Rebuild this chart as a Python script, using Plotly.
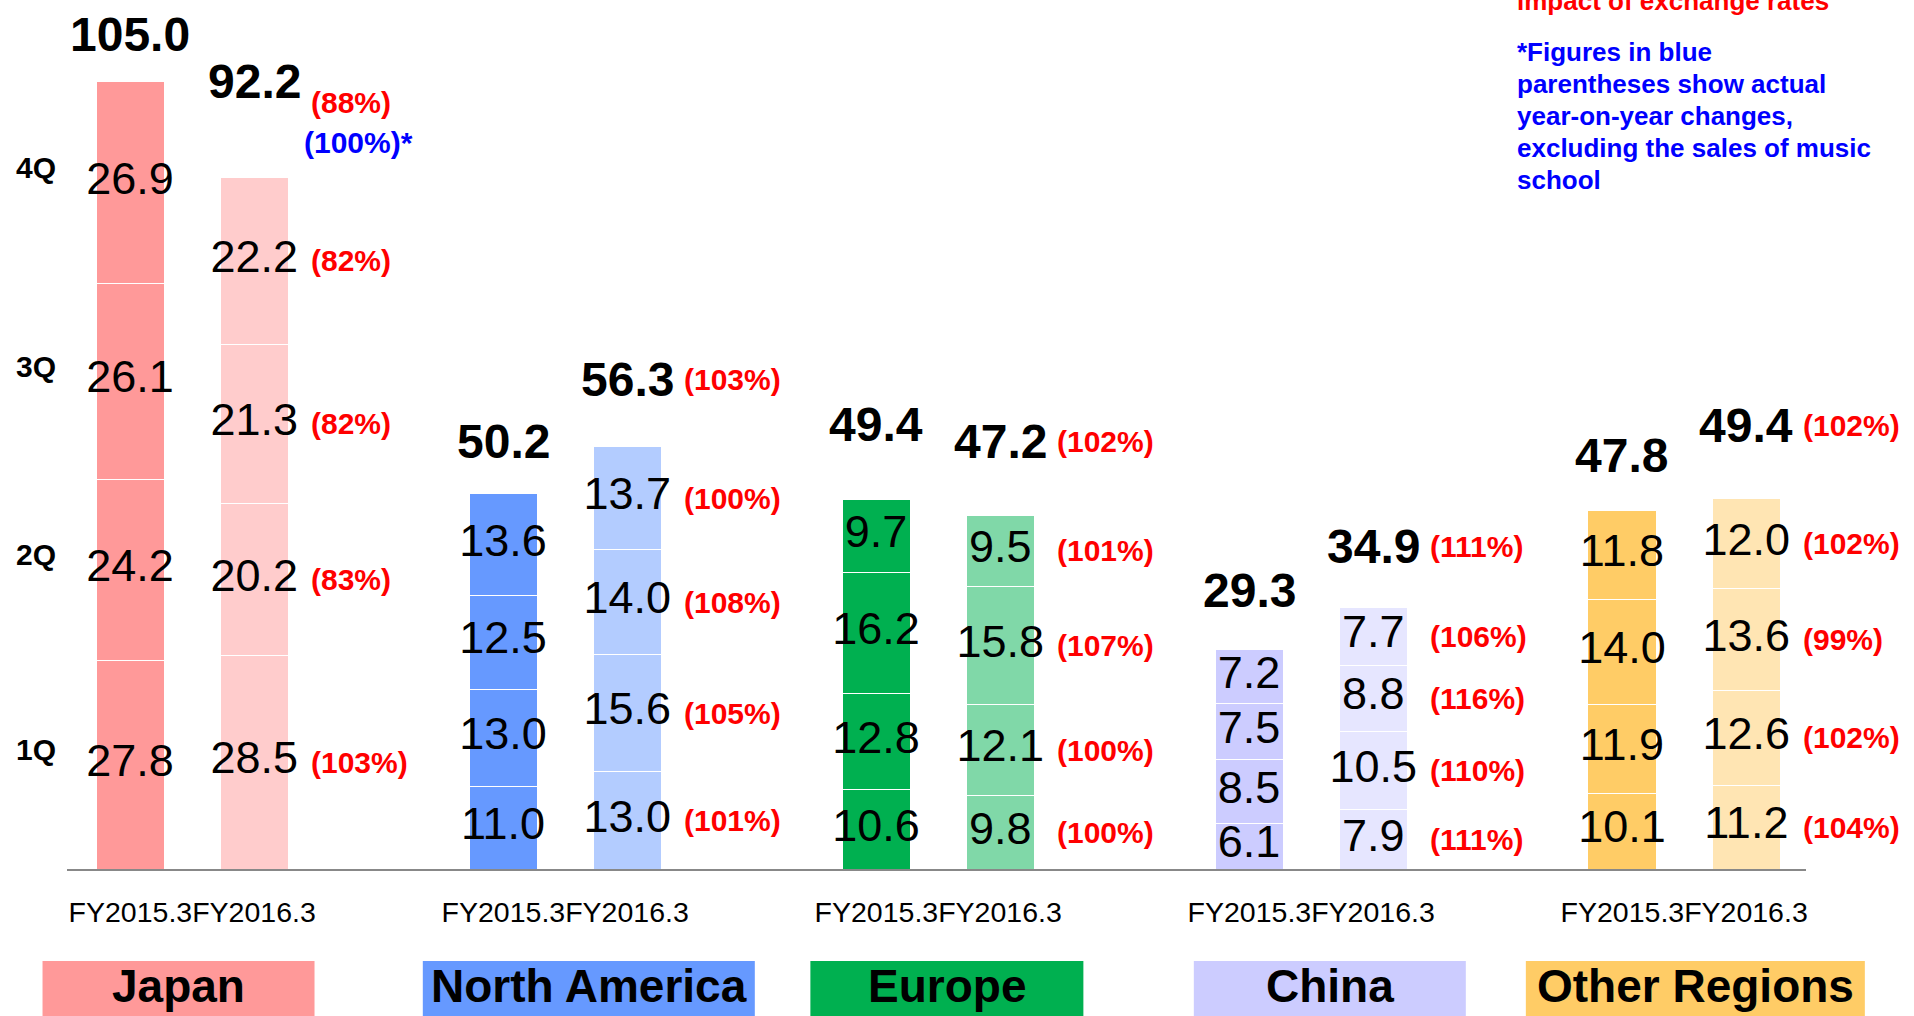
import plotly.graph_objects as go

regions = ["Japan", "North America", "Europe", "China", "Other Regions"]
tick_label = "FY2015.3FY2016.3"
quarters = ["1Q", "2Q", "3Q", "4Q"]

# quarterly sales, 1Q..4Q (bottom to top)
japan_fy15 = [27.8, 24.2, 26.1, 26.9]
japan_fy16 = [28.5, 20.2, 21.3, 22.2]
namerica_fy15 = [11.0, 13.0, 12.5, 13.6]
namerica_fy16 = [13.0, 15.6, 14.0, 13.7]
europe_fy15 = [10.6, 12.8, 16.2, 9.7]
europe_fy16 = [9.8, 12.1, 15.8, 9.5]
china_fy15 = [6.1, 8.5, 7.5, 7.2]
china_fy16 = [7.9, 10.5, 8.8, 7.7]
other_fy15 = [10.1, 11.9, 14.0, 11.8]
other_fy16 = [11.2, 12.6, 13.6, 12.0]

# yoy changes (FY2016.3), 1Q..4Q
japan_pct = ["(103%)", "(83%)", "(82%)", "(82%)"]
namerica_pct = ["(101%)", "(105%)", "(108%)", "(100%)"]
europe_pct = ["(100%)", "(100%)", "(107%)", "(101%)"]
china_pct = ["(111%)", "(110%)", "(116%)", "(106%)"]
other_pct = ["(104%)", "(102%)", "(99%)", "(102%)"]

totals_fy15 = ["105.0", "50.2", "49.4", "29.3", "47.8"]
totals_fy16 = ["92.2", "56.3", "47.2", "34.9", "49.4"]
totals_pct = ["(88%)", "(103%)", "(102%)", "(111%)", "(102%)"]
japan_actual_pct = "(100%)*"

note_red = "impact of exchange rates"
note_blue = ["*Figures in blue", "parentheses show actual", "year-on-year changes,",
             "excluding the sales of music", "school"]

#colors / layout tweaks
dark = ["#FF9999", "#6699FF", "#00B050", "#CCCCFF", "#FFCC66"]
light = ["#FFCCCC", "#B3CCFF", "#80D8A8", "#E6E6FF", "#FFE5B3"]
box_widths = [272, 332, 273, 272, 339]
box_x = [0.39, 3.69, 6.57, 9.65, 12.59]
total_lift = [47, 96, 52, 67, 75, 74, 59, 61, 55, 73]  # px above bar top
X_RANGE = [-0.507, 13.48]
PLOT_W = 1914 - 67 - 108
FONT = "Arial, Liberation Sans, sans-serif"


def to_paper(x):
    return (x - X_RANGE[0]) / (X_RANGE[1] - X_RANGE[0])


cols15 = [japan_fy15, namerica_fy15, europe_fy15, china_fy15, other_fy15]
cols16 = [japan_fy16, namerica_fy16, europe_fy16, china_fy16, other_fy16]
pcts = [japan_pct, namerica_pct, europe_pct, china_pct, other_pct]

xs, cols, colors = [], [], []
for i in range(len(regions)):
    xs += [3 * i, 3 * i + 1]
    cols += [cols15[i], cols16[i]]
    colors += [dark[i], light[i]]

fig = go.Figure()

#stacked bars, one trace per quarter
for q in range(4):
    fig.add_trace(go.Bar(
        x=xs, y=[c[q] for c in cols], width=0.547,
        marker=dict(color=colors, line=dict(color="white", width=1)),
        showlegend=False, hoverinfo="skip"))

#value labels at segment centers
lx, ly, lt = [], [], []
for x, c in zip(xs, cols):
    base = 0
    for v in c:
        lx.append(x)
        ly.append(base + v / 2)
        lt.append(f"{v:.1f}")
        base += v
fig.add_trace(go.Scatter(x=lx, y=ly, text=lt, mode="text", textposition="middle center",
                         textfont=dict(size=45, color="black", family=FONT),
                         cliponaxis=False, showlegend=False, hoverinfo="skip"))

red = dict(size=30, color="#FF0000", family=FONT)
ann = []
shapes = []
for i in range(len(regions)):
    x15, x16 = 3 * i, 3 * i + 1
    top15, top16 = sum(cols15[i]), sum(cols16[i])
    lift15, lift16 = total_lift[2 * i], total_lift[2 * i + 1]
    ann.append(dict(x=x15, y=top15, text=f"<b>{totals_fy15[i]}</b>", yshift=lift15))
    ann.append(dict(x=x16, y=top16, text=f"<b>{totals_fy16[i]}</b>", yshift=lift16))
    if i == 0:
        ann.append(dict(x=x16 + 0.44, y=top16, text=f"<b>{totals_pct[i]}</b>", yshift=lift16 - 21,
                        xanchor="left", font=red))
        ann.append(dict(x=x16 + 0.38, y=top16, text=f"<b>{japan_actual_pct}</b>", yshift=lift16 - 61,
                        xanchor="left", font=dict(size=30, color="#0000FF", family=FONT)))
    else:
        ann.append(dict(x=x16 + 0.44, y=top16, text=f"<b>{totals_pct[i]}</b>", yshift=lift16,
                        xanchor="left", font=red))
    base = 0
    for v, p in zip(cols16[i], pcts[i]):
        ann.append(dict(x=x16 + 0.44, y=base + v / 2, text=f"<b>{p}</b>", xanchor="left", font=red))
        base += v
    # region name boxes
    cx = to_paper(box_x[i])
    half = box_widths[i] / 2 / PLOT_W
    shapes.append(dict(type="rect", xref="paper", yref="paper", x0=cx - half, x1=cx + half,
                       y0=(869 - 961) / 869, y1=(869 - 1030) / 869,
                       fillcolor=dark[i], line=dict(width=0), layer="below"))
    ann.append(dict(x=cx, xref="paper", y=(869 - 986) / 869, yref="paper", yanchor="middle",
                    xanchor="center", text=f"<b>{regions[i]}</b>",
                    font=dict(size=46, color="black", family=FONT)))

#quarter labels on the left, next to the japan FY2015.3 bar
base = 0
for qname, v in zip(quarters, japan_fy15):
    ann.append(dict(x=-0.018, xref="paper", xanchor="center", y=base + v / 2, text=f"<b>{qname}</b>",
                    yshift=15, font=dict(size=30, color="black", family=FONT)))
    base += v

ann.append(dict(x=0.8326, xref="paper", y=0.9988, yref="paper", xanchor="left", yanchor="middle",
                text=f"<b>{note_red}</b>", font=dict(size=26, color="#FF0000", family=FONT)))
for k, line in enumerate(note_blue):
    ann.append(dict(x=0.8326, xref="paper", y=(869 - 52 - 32 * k) / 869, yref="paper",
                    xanchor="left", yanchor="middle", text=f"<b>{line}</b>",
                    font=dict(size=26, color="#0000FF", family=FONT)))

for a in ann:
    a.setdefault("showarrow", False)
    a.setdefault("font", dict(size=48, color="black", family=FONT))

fig.update_layout(
    width=1914, height=1016,
    barmode="stack",
    plot_bgcolor="white", paper_bgcolor="white",
    margin=dict(l=67, r=108, t=0, b=147),
    annotations=ann,
    shapes=shapes,
    xaxis=dict(range=X_RANGE, showgrid=False, zeroline=False,
               showline=True, linecolor="#888888", linewidth=2,
               tickvals=[3 * i + 0.5 for i in range(len(regions))],
               ticktext=[tick_label] * len(regions), ticks="",
               ticklabelstandoff=17,
               tickfont=dict(size=28.5, color="black", family=FONT)),
    yaxis=dict(range=[0, 869 / 7.5], visible=False),
    font=dict(family=FONT),
)

fig.write_html("out.html", config={"displayModeBar": False},
               post_script="document.body.style.margin='0';")
